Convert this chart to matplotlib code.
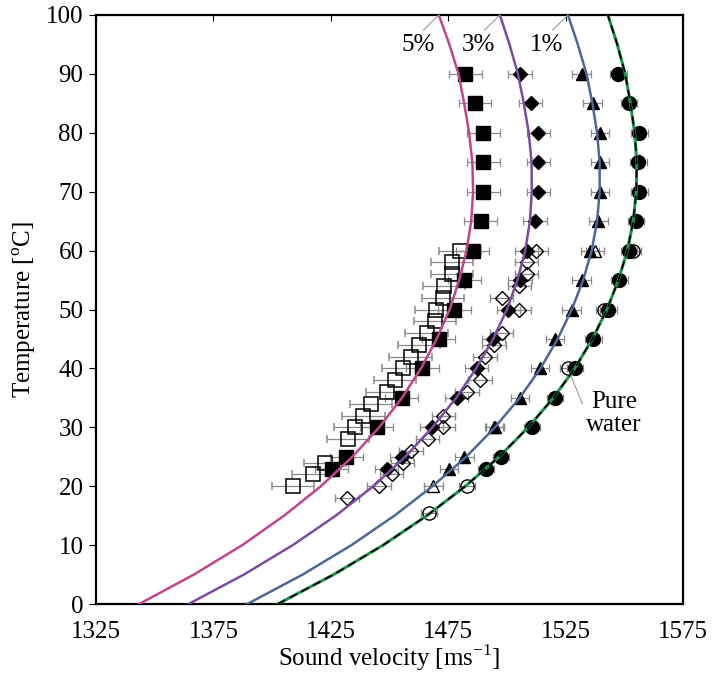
import matplotlib
matplotlib.use("Agg")
import matplotlib.pyplot as plt

plt.rcParams['font.family'] = ['Liberation Serif', 'DejaVu Serif']
plt.rcParams['mathtext.fontset'] = 'custom'
plt.rcParams['mathtext.rm'] = 'Liberation Serif'

# fitted curves, temperature every 5 C
curve_t = [0, 5, 10, 15, 20, 25, 30, 35, 40, 45, 50, 55, 60, 65, 70, 75, 80, 85, 90, 95, 100]
water_fit = [1402.4, 1426.2, 1447.3, 1465.9, 1482.3, 1496.7, 1509.1, 1519.8, 1528.9, 1536.4, 1542.6,
             1547.5, 1551.3, 1553.8, 1555.1, 1555.3, 1554.4, 1552.6, 1550.4, 1547.0, 1543.0]
fit_1 = [1389.4, 1413.0, 1433.8, 1452.1, 1468.3, 1482.7, 1494.9, 1505.4, 1514.3, 1521.6, 1527.6,
         1532.5, 1536.1, 1538.4, 1539.5, 1539.5, 1538.4, 1536.4, 1533.9, 1530.2, 1526.0]
fit_3 = [1364.4, 1388.0, 1408.8, 1427.1, 1443.1, 1456.7, 1468.3, 1478.4, 1486.9, 1494.1, 1500.0,
         1504.5, 1507.8, 1509.8, 1510.6, 1510.5, 1509.3, 1507.2, 1504.7, 1501.1, 1497.0]
fit_5 = [1343.4, 1366.7, 1387.3, 1405.1, 1420.8, 1434.2, 1445.6, 1455.3, 1463.4, 1470.1, 1475.6,
         1479.7, 1482.8, 1484.8, 1485.6, 1485.3, 1483.9, 1481.8, 1479.4, 1475.5, 1471.0]

# measured points (filled symbols)
meas_t = [23, 25, 30, 35, 40, 45, 50, 55, 60, 65, 70, 75, 80, 85, 90]
water_meas = [1491.0, 1497.4, 1510.6, 1520.5, 1529.0, 1536.8, 1543.2, 1547.9, 1552.1,
              1555.0, 1556.4, 1556.0, 1556.4, 1552.1, 1547.5]
meas_1 = [1475.3, 1481.9, 1494.5, 1505.6, 1514.1, 1520.5, 1527.6, 1531.8, 1535.4,
          1538.9, 1539.6, 1539.6, 1539.6, 1536.5, 1531.8]
meas_3 = [1448.8, 1455.2, 1467.9, 1478.6, 1487.1, 1494.2, 1500.6, 1505.6, 1508.4,
          1512.0, 1513.4, 1513.4, 1513.4, 1510.1, 1505.6]
meas_5 = [1425.4, 1431.6, 1444.5, 1455.2, 1464.0, 1470.9, 1477.6, 1481.9, 1485.4,
          1488.8, 1490.0, 1490.0, 1490.0, 1486.4, 1482.2]

# second data set (open symbols)
open_water_t = [15.4, 20, 40, 50, 60]
open_water = [1466.8, 1483.0, 1526.0, 1541.4, 1553.5]
open_1_t = [20, 30, 60]
open_1 = [1468.7, 1494.9, 1537.5]
open_3_t = [18, 20, 22, 24, 26, 28, 30, 32, 36, 38, 42, 44, 46, 50, 52, 54, 56, 58, 60]
open_3 = [1432.0, 1445.5, 1450.9, 1455.6, 1459.2, 1466.2, 1472.9, 1472.9, 1483.1, 1488.5,
          1490.7, 1494.5, 1497.8, 1505.3, 1497.8, 1505.3, 1508.4, 1508.4, 1512.4]
open_5_t = [20, 22, 24, 28, 30, 32, 34, 36, 38, 40, 42, 44, 46, 48, 50, 52, 54, 56, 58, 60]
open_5 = [1409.0, 1417.3, 1422.5, 1432.2, 1435.3, 1438.9, 1442.1, 1448.8, 1452.3, 1455.6,
          1459.0, 1462.7, 1465.8, 1469.4, 1469.7, 1472.9, 1473.2, 1476.5, 1476.5, 1480.0]

# error (+/- m/s)
err_water, err_1, err_3, err_5, err_5_open = 3.5, 4, 5, 7, 9

fig = plt.figure(figsize=(7.12, 6.78), dpi=100)
ax = fig.add_axes([0.1348, 0.1091, 0.8245, 0.8688])

eb = dict(ecolor='#8a8a8a', elinewidth=0.9, capsize=3, capthick=0.9, linestyle='none', zorder=2)

ax.errorbar(open_5, open_5_t, xerr=err_5_open, marker='s', ms=9.5, mfc='none', mec='black', mew=1.1, **eb)
ax.errorbar(open_3, open_3_t, xerr=err_3, marker='D', ms=7.5, mfc='none', mec='black', mew=1.0, **eb)
ax.errorbar(open_1, open_1_t, xerr=err_1, marker='^', ms=9, mfc='none', mec='black', mew=1.0, **eb)
ax.errorbar(open_water, open_water_t, xerr=err_water, marker='o', ms=9.5, mfc='none', mec='black', mew=1.0, **eb)

ax.errorbar(meas_5, meas_t, xerr=err_5, marker='s', ms=10, color='black', **eb)
ax.errorbar(meas_3, meas_t, xerr=err_3, marker='D', ms=7.5, color='black', **eb)
ax.errorbar(meas_1, meas_t, xerr=err_1, marker='^', ms=9, color='black', **eb)
ax.errorbar(water_meas, meas_t, xerr=err_water, marker='o', ms=10, color='black', **eb)

ax.plot(fit_5, curve_t, color='#c1448e', lw=1.8, zorder=3)
ax.plot(fit_3, curve_t, color='#7a4da2', lw=1.8, zorder=3)
ax.plot(fit_1, curve_t, color='#4e6698', lw=1.8, zorder=3)
ax.plot(water_fit, curve_t, color='#1f9150', lw=2.2, zorder=3)
ax.plot(water_fit, curve_t, color='black', lw=1.2, ls=(0, (5, 3)), zorder=4)

lead = dict(arrowstyle='-', color='#9a9a9a', lw=0.8, shrinkA=1, shrinkB=0, relpos=(0.55, 1.0))
for fit, lab in [(fit_5, '5%'), (fit_3, '3%'), (fit_1, '1%')]:
    ax.annotate(lab, xy=(fit[-1], curve_t[-1]), xytext=(-21, -30), textcoords='offset pixels',
                ha='center', va='center', fontsize=18, arrowprops=lead)

ax.annotate('Pure\nwater', xy=(open_water[2], open_water_t[2]), xytext=(46, -45),
            textcoords='offset pixels', ha='center', va='center', fontsize=18, linespacing=1.05,
            arrowprops=dict(arrowstyle='-', color='#9a9a9a', lw=0.8, shrinkA=2, shrinkB=4, relpos=(0.0, 0.5)))

ax.set_xlim(1325, 1575)
ax.set_ylim(0, 100)
ax.set_xticks([1325, 1375, 1425, 1475, 1525, 1575])
ax.set_yticks(range(0, 101, 10))
ax.tick_params(axis='x', bottom=False, top=True, direction='in', length=4, labelsize=18, pad=12)
ax.tick_params(axis='y', direction='out', length=5, labelsize=18, pad=4)
for s in ax.spines.values():
    s.set_linewidth(1.6)

ax.set_xlabel(r'Sound velocity [ms$^{\mathregular{-1}}$]', fontsize=18, labelpad=0)
ax.set_ylabel(r'Temperature [$^{\mathregular{o}}$C]', fontsize=18, labelpad=6)

fig.savefig('out.png', dpi=100)
